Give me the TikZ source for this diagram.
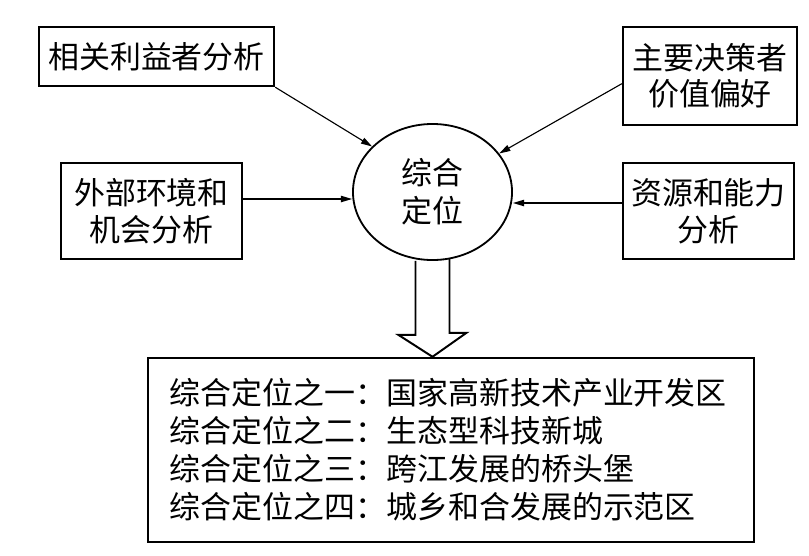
\documentclass[tikz,border=0pt]{standalone}
\usepackage{fontspec}
\newfontfamily\cjk{Noto Sans CJK SC}
\usetikzlibrary{positioning, arrows.meta, shapes.geometric}

\begin{document}
\begin{tikzpicture}[x=0.025cm, y=-0.025cm,
    factor/.style={draw, line width=1.7pt, font=\cjk\fontsize{22}{26}\selectfont, align=center, inner sep=0pt},
    core/.style={ellipse, draw, line width=1.3pt, minimum width=3.975cm, minimum height=3.4cm, inner sep=0pt, font=\cjk\fontsize{22}{27}\selectfont, align=center},
    outcome/.style={draw, line width=1.7pt, minimum width=15.15cm, minimum height=4.6cm, inner xsep=0.55cm, text width=14.05cm, align=left, font=\cjk\fontsize{22}{27}\selectfont},
    link/.style={-{Triangle[length=2.8mm, width=1.6mm]}, line width=0.8pt},
]
    \useasboundingbox (0,0) rectangle (809,555);
    \node[factor, minimum width=5.875cm, minimum height=1.475cm] (stake) at (156.5,56.5) {相关利益者分析};
    \node[factor, minimum width=4.525cm, minimum height=2.4cm] (env) at (151.5,211) {外部环境和\\机会分析};
    \node[factor, minimum width=4.35cm, minimum height=2.45cm] (pref) at (710,76) {主要决策者\\价值偏好};
    \node[factor, minimum width=4.275cm, minimum height=2.4cm] (cap) at (708.5,211) {资源和能力\\分析};
    \node[core] (pos) at (432.5,192) {综合\\定位};
    \node[outcome] (out) at (451,450) {综合定位之一：国家高新技术产业开发区\\综合定位之二：生态型科技新城\\综合定位之三：跨江发展的桥头堡\\综合定位之四：城乡和合发展的示范区};
    % inputs
    \coordinate (envout) at ([yshift=0.3cm]env.east);
    \coordinate (capout) at ([yshift=0.2cm]cap.west);
    \draw[link] (stake.south east) -- (pos.143);
    \draw[link] (pref.185) -- (pos.30);
    \draw[link] (envout) -- (envout -| pos.west);
    \draw[link] (capout) -- (capout -| pos.east);
    % hollow arrow
    \draw[line width=1.4pt, line join=miter] ([xshift=-0.425cm]pos.south) -- ++(0,74) -- ++(-17,0) -- (pos.south |- out.north) -- ++(34,-24) -- ++(-17,0) -- ++(0,-74);
\end{tikzpicture}
\end{document}
